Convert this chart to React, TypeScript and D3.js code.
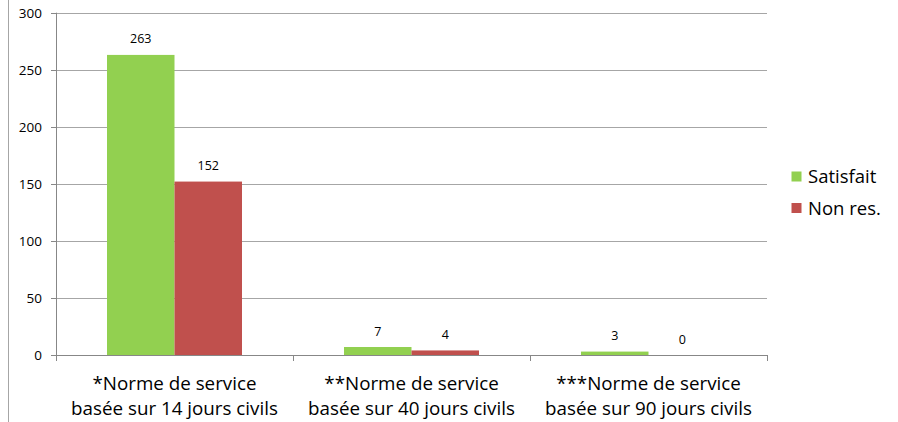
import React from "react";
import * as d3 from "d3";

const categories = [
  ["*Norme de service", "basée sur 14 jours civils"],
  ["**Norme de service", "basée sur 40 jours civils"],
  ["***Norme de service", "basée sur 90 jours civils"],
];
const seriesNames = ["Satisfait", "Non res."];
const satisfait = [263, 7, 3];
const nonRes = [152, 4, 0];
const yTicks = [0, 50, 100, 150, 200, 250, 300];
const colors = ["#92D050", "#C0504D"];

const FONT = "'Open Sans', sans-serif";

export default function App() {
  const W = 898, H = 422;
  const left = 56, right = 767, top = 12.7, bottom = 355;
  const x = d3.scaleBand<number>().domain([0, 1, 2]).range([left, right]).paddingInner(0).paddingOuter(0);
  const y = d3.scaleLinear().domain([0, 300]).range([bottom, top]);
  const bw = x.bandwidth();
  const barW = 67.5;
  const series = [satisfait, nonRes];

  return (
    <svg width={W} height={H} style={{ position: "absolute", left: 0, top: 0, fontFamily: FONT }}>
      <rect x={0} y={0} width={W} height={H} fill="#fff" />
      <line x1={8.5} x2={8.5} y1={0} y2={H} stroke="#A6A6A6" />
      {yTicks.map((t) => (
        <g key={t}>
          {t > 0 && (
            <line x1={left} x2={right} y1={Math.round(y(t)) + 0.5} y2={Math.round(y(t)) + 0.5} stroke="#A6A6A6" />
          )}
          <line x1={left - 5} x2={left} y1={Math.round(y(t)) + 0.5} y2={Math.round(y(t)) + 0.5} stroke="#878787" />
          <text x={42} y={y(t)} dy="0.36em" textAnchor="end" fontSize={13.5} fill="#000">
            {t}
          </text>
        </g>
      ))}
      {series.map((vals, si) =>
        vals.map((v, ci) => {
          const cx = (x(ci) as number) + bw / 2;
          const bx = cx - barW + si * barW;
          return (
            <g key={`${si}-${ci}`}>
              {v > 0 && (
                <rect x={bx} y={y(v)} width={barW} height={bottom - y(v)} fill={colors[si]} />
              )}
              <text x={bx + barW / 2} y={y(v) - 11.5} textAnchor="middle" fontSize={12.5} fill="#000">
                {v}
              </text>
            </g>
          );
        })
      )}
      <line x1={left + 0.5} x2={left + 0.5} y1={top} y2={bottom} stroke="#878787" />
      <line x1={left} x2={right} y1={bottom + 0.5} y2={bottom + 0.5} stroke="#878787" />
      {[0, 1, 2, 3].map((i) => {
        const tx = i < 3 ? (x(i) as number) : right;
        return (
          <line key={i} x1={Math.round(tx) + 0.5} x2={Math.round(tx) + 0.5} y1={bottom} y2={bottom + 6} stroke="#878787" />
        );
      })}
      {categories.map((lines, ci) => (
        <text key={ci} textAnchor="middle" fontSize={18.8} fill="#000">
          {lines.map((l, li) => (
            <tspan key={li} x={(x(ci) as number) + bw / 2} y={390 + li * 25}>
              {l}
            </tspan>
          ))}
        </text>
      ))}
      {seriesNames.map((n, i) => (
        <g key={n}>
          <rect x={791.5} y={171.5 + i * 31.5} width={10} height={10} fill={colors[i]} />
          <text x={808} y={182.7 + i * 32.3} fontSize={18.5} fill="#000">
            {n}
          </text>
        </g>
      ))}
    </svg>
  );
}
